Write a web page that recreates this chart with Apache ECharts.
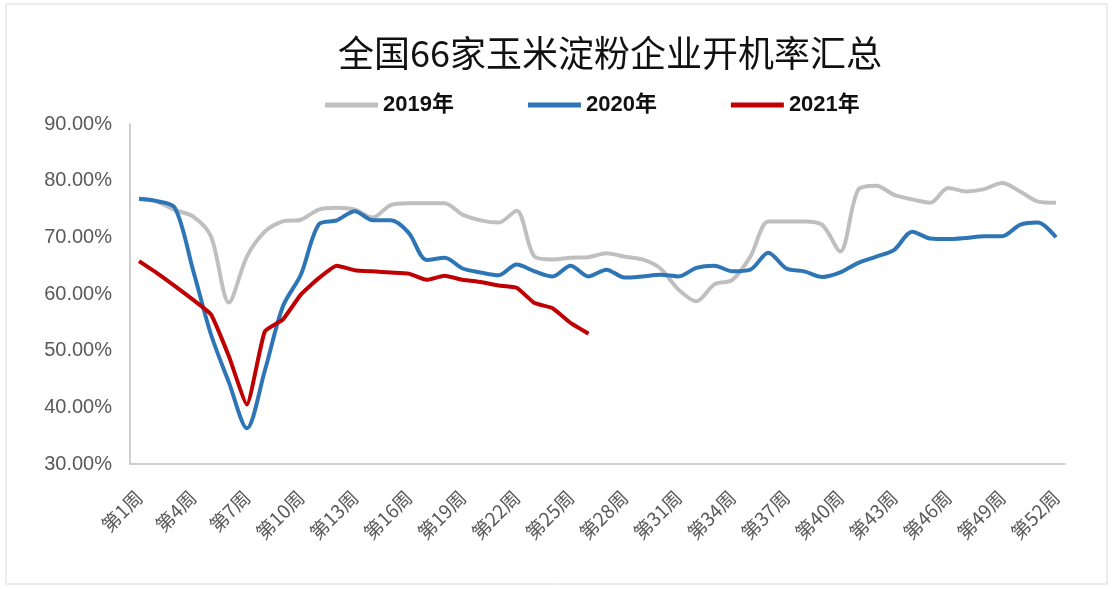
<!DOCTYPE html>
<html>
<head>
<meta charset="utf-8">
<script src="https://cdn.jsdelivr.net/npm/echarts@6/dist/echarts.min.js"></script>
<style>
html,body{margin:0;padding:0;background:#fff;}
#chart{width:1113px;height:589px;}
</style>
</head>
<body>
<div id="chart"></div>
<script>
var weeks = [];
for (var i = 1; i <= 52; i++) weeks.push('第' + i + '周');

var seriesNames = ['2019年', '2020年', '2021年'];

var data2019 = [76.7, 76.3, 74.8, 73.7, 70.2, 58.5, 66.6, 71.0, 72.8, 73.1,
  74.9, 75.2, 74.9, 73.5, 75.7, 76.0, 76.0, 76.0, 74.0, 73.0,
  72.6, 74.7, 66.6, 66.1, 66.4, 66.5, 67.2, 66.6, 66.1, 64.5,
  60.8, 58.7, 61.7, 62.5, 66.6, 72.8, 72.8, 72.8, 72.2, 67.5,
  78.4, 79.1, 77.5, 76.7, 76.1, 78.7, 78.1, 78.5, 79.6, 78.1,
  76.3, 76.1];

var data2020 = [76.8, 76.4, 75.2, 64.3, 52.9, 44.4, 36.3, 46.5, 57.8, 63.4,
  72.3, 73.0, 74.6, 73.0, 73.0, 70.8, 66.0, 66.4, 64.5, 63.8,
  63.3, 65.2, 64.0, 63.1, 65.0, 63.1, 64.3, 62.9, 63.1, 63.4,
  63.1, 64.6, 65.0, 64.0, 64.3, 67.3, 64.5, 64.0, 63.0, 63.8,
  65.5, 66.6, 67.8, 71.0, 69.8, 69.7, 69.9, 70.2, 70.2, 72.2,
  72.6, 70.0];

var data2021 = [65.8, 63.7, 61.4, 59.0, 56.4, 49.0, 40.5, 53.4, 55.5, 59.9,
  62.8, 65.0, 64.2, 64.0, 63.8, 63.6, 62.5, 63.2, 62.5, 62.1,
  61.5, 61.1, 58.4, 57.5, 54.9, 53.0];

var colors = ['#BFBFBF', '#2E75B6', '#C00000'];

var chart = echarts.init(document.getElementById('chart'));
chart.setOption({
  animation: false,
  backgroundColor: '#ffffff',
  graphic: [{
    type: 'rect',
    shape: {x: 6, y: 4, width: 1101, height: 580},
    style: {fill: 'none', stroke: '#D9D9D9', lineWidth: 1},
    silent: true,
    z: -10
  }],
  title: {
    text: '全国66家玉米淀粉企业开机率汇总',
    left: 333,
    top: 30,
    textStyle: {
      fontFamily: 'Noto Sans CJK SC',
      fontSize: 36,
      fontWeight: 'normal',
      color: '#111'
    }
  },
  legend: {
    left: 320,
    top: 89,
    itemWidth: 53,
    itemHeight: 5,
    itemGap: 74,
    icon: 'rect',
    data: seriesNames,
    textStyle: {
      fontFamily: 'Liberation Sans, Noto Sans CJK SC',
      fontSize: 22,
      fontWeight: 'bold',
      color: '#111'
    }
  },
  grid: {left: 130, right: 48, top: 124, bottom: 125},
  xAxis: {
    type: 'category',
    data: weeks,
    boundaryGap: true,
    axisLine: {lineStyle: {color: '#BFBFBF', width: 1.5}},
    axisTick: {show: false},
    axisLabel: {
      interval: 2,
      rotate: 45,
      margin: 30,
      fontSize: 19,
      color: '#595959',
      fontFamily: 'Noto Sans CJK SC'
    }
  },
  yAxis: {
    type: 'value',
    min: 30,
    max: 90,
    interval: 10,
    axisLine: {show: true, lineStyle: {color: '#BFBFBF', width: 1.5}},
    axisTick: {show: false},
    splitLine: {show: false},
    axisLabel: {
      margin: 18,
      fontSize: 20,
      color: '#595959',
      fontFamily: 'Liberation Sans',
      formatter: function (v) { return v.toFixed(2) + '%'; }
    }
  },
  series: [
    {name: seriesNames[0], type: 'line', data: data2019, smooth: 0.3, symbol: 'none',
     lineStyle: {color: colors[0], width: 4}, itemStyle: {color: colors[0]}, z: 1},
    {name: seriesNames[1], type: 'line', data: data2020, smooth: 0.3, symbol: 'none',
     lineStyle: {color: colors[1], width: 4}, itemStyle: {color: colors[1]}, z: 2},
    {name: seriesNames[2], type: 'line', data: data2021, smooth: 0.15, symbol: 'none',
     lineStyle: {color: colors[2], width: 4}, itemStyle: {color: colors[2]}, z: 3}
  ]
});
</script>
</body>
</html>
